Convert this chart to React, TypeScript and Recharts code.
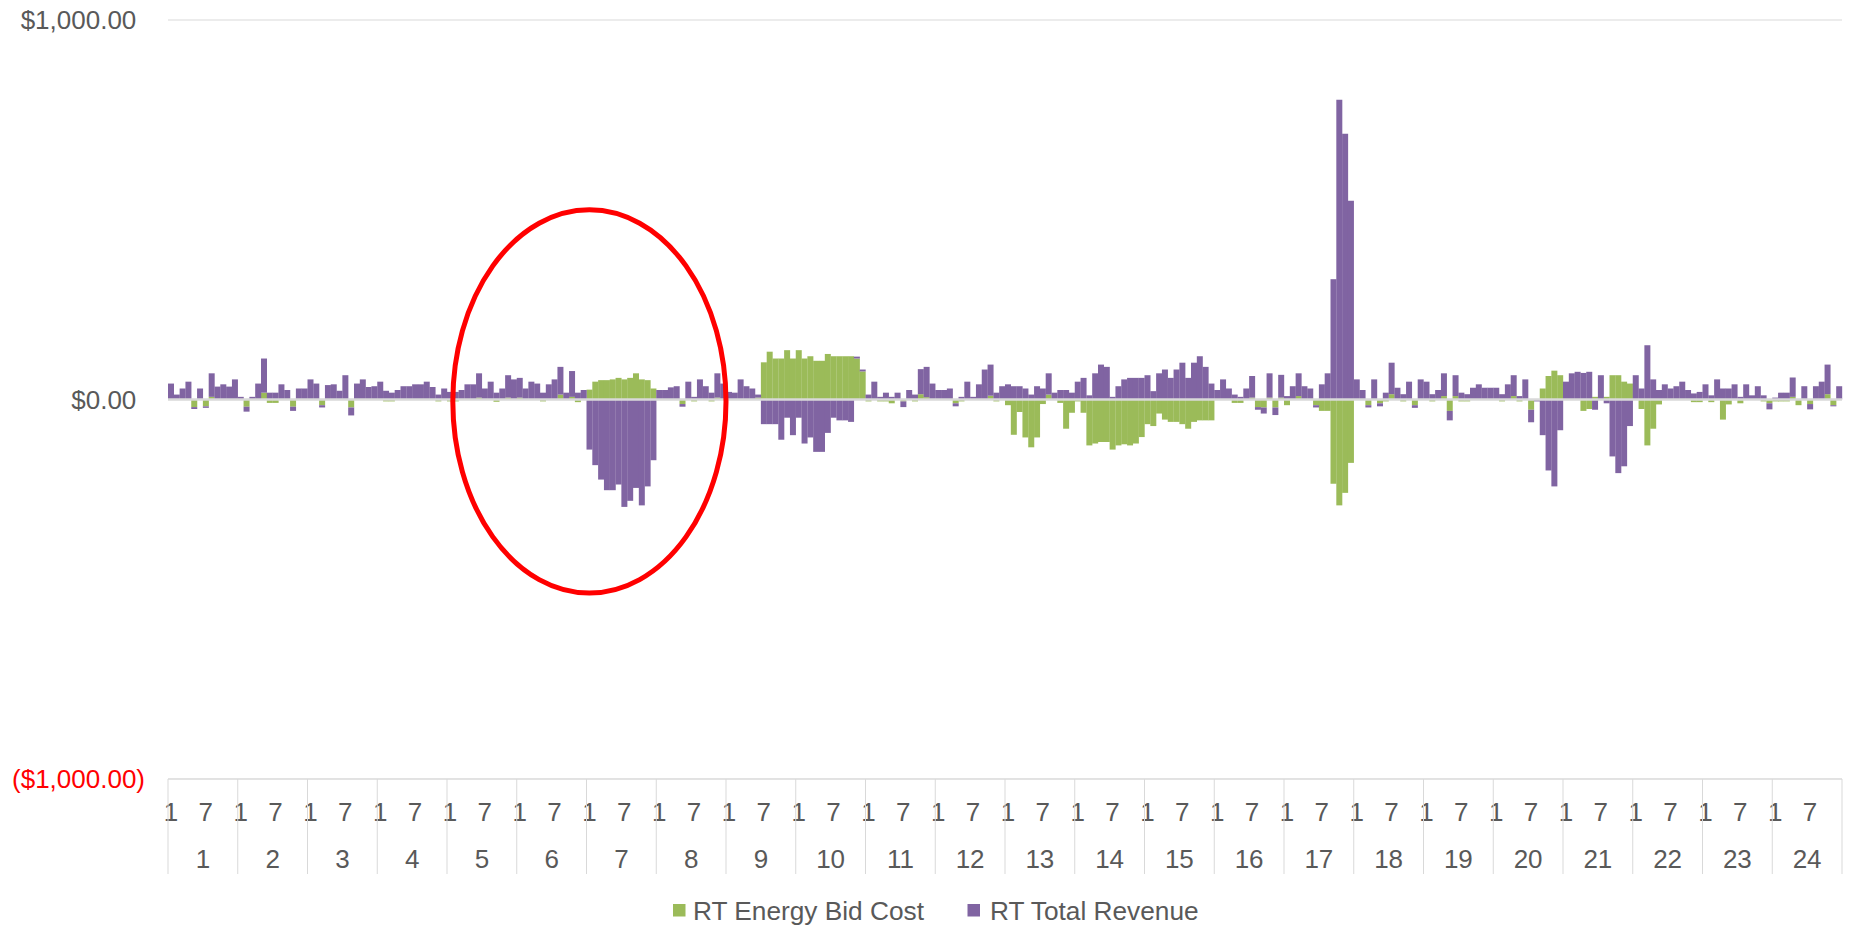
import { BarChart, Bar, XAxis, YAxis, CartesianGrid, Legend, ReferenceLine, ReferenceArea } from 'recharts'

const FONT = '"Liberation Sans", Arial, sans-serif'
const GREEN = '#9BBB59'
const PURPLE = '#8064A2'
const GRID = '#d9d9d9'
const TEXT = '#595959'

const hours = [1, 2, 3, 4, 5, 6, 7, 8, 9, 10, 11, 12, 13, 14, 15, 16, 17, 18, 19, 20, 21, 22, 23, 24]
const intervals = [1, 2, 3, 4, 5, 6, 7, 8, 9, 10, 11, 12]
const labelledIntervals = [1, 7]
const yTicks = [-1000, 0, 1000]

// RT Energy Bid Cost, one row per hour, 12 five-minute intervals each
const bidCost = [
  [0, 0, 0, 0, -20, 0, -18, 7, 0, 0, 0, 0],
  [0, -19, 0, 0, 18, -9, -9, 0, 0, -19, 0, 0],
  [0, 0, -15, 0, 0, 0, 0, -21, 0, 0, 0, 0],
  [0, -5, -5, 0, 0, 0, 0, 0, 0, 0, -5, 0],
  [-5, -5, 0, 0, 0, 5, 0, 0, -6, 0, 5, 0],
  [5, 0, 0, 0, -5, 0, 0, 13, 0, 7, -7, 0],
  [26, 47, 51, 51, 53, 57, 53, 57, 69, 53, 51, 29],
  [0, 0, 0, 0, -12, 0, -5, 0, 0, -5, 5, 0],
  [0, 0, 0, 0, 0, 5, 98, 126, 108, 108, 130, 108],
  [130, 108, 114, 102, 102, 120, 114, 114, 114, 114, 108, 74],
  [-5, 0, -5, -5, -10, 0, -5, 0, -5, 14, 6, 0],
  [0, 0, 0, -10, -5, 0, 0, 0, 0, 10, -5, 0],
  [-15, -93, -33, -100, -126, -100, -12, 13, 0, -9, -77, -35],
  [-5, -35, -121, -116, -112, -112, -132, -121, -118, -121, -116, -99],
  [-65, -70, -37, -53, -59, -59, -65, -77, -59, -55, -55, -55],
  [0, 0, 0, -9, -9, 0, 5, -20, -21, 5, -21, 5],
  [-15, 0, 9, 0, 0, -15, -30, -30, -222, -279, -246, -167],
  [0, 0, -15, 0, -10, -5, 14, 0, -5, 0, -15, 0],
  [0, -5, 0, 9, -30, 9, -5, -5, 0, 0, 0, 0],
  [0, -5, 0, 9, -5, 0, -27, 0, 29, 62, 76, 64],
  [0, 0, 0, -30, -25, 7, 0, 7, 64, 64, 47, 42],
  [0, -25, -121, -77, -13, 0, 0, 0, 0, 0, -7, -7],
  [0, -7, 0, -53, -13, 0, -10, 0, 0, 0, -5, -10],
  [-5, -5, -5, 7, -15, 0, -12, 0, 0, 14, -15, 0],
]

// RT Total Revenue, same layout
const totalRevenue = [
  [42, 13, 29, 47, -5, 29, -4, 62, 34, 40, 34, 53],
  [7, -13, 7, 42, 90, 18, 18, 40, 25, -11, 29, 29],
  [53, 42, -6, 38, 40, 23, 64, -21, 42, 53, 33, 35],
  [47, 23, 18, 25, 35, 35, 40, 40, 47, 33, 13, 29],
  [20, 20, 25, 40, 40, 64, 29, 47, 18, 29, 59, 53],
  [52, 29, 47, 42, 18, 40, 53, 73, 18, 68, 18, 25],
  [-132, -173, -211, -239, -239, -224, -283, -267, -233, -279, -229, -160],
  [25, 25, 32, 35, -7, 47, 7, 53, 35, 18, 64, 42],
  [20, 18, 53, 35, 29, 8, -65, -65, -65, -106, -48, -94],
  [-48, -116, -100, -138, -138, -88, -48, -55, -55, -59, 5, 5],
  [13, 47, 7, 18, 7, 18, -15, 25, 13, 66, 80, 42],
  [25, 25, 29, -8, 7, 47, 7, 40, 79, 82, 18, 35],
  [40, 35, 35, 29, 13, 35, 29, 56, 18, 25, 25, 18],
  [47, 57, 11, 69, 92, 86, 7, 35, 53, 57, 57, 57],
  [64, 22, 69, 79, 57, 79, 97, 57, 97, 114, 86, 42],
  [25, 53, 29, 13, 7, 29, 57, -7, -16, 64, -20, 60],
  [9, 35, 60, 35, 29, -6, 40, 69, 317, 790, 700, 524],
  [53, 25, -6, 53, -8, 18, 83, 31, 14, 47, -7, 53],
  [47, 14, 25, 60, -25, 55, 18, 14, 31, 40, 31, 31],
  [31, 14, 40, 55, 9, 53, -33, -5, -94, -187, -229, -81],
  [47, 69, 73, 70, 73, -27, 64, -10, -150, -194, -176, -70],
  [64, 29, 143, 53, 25, 40, 29, 35, 47, 25, 16, 20],
  [40, 11, 53, 29, 29, 40, 7, 40, 11, 35, 11, -16],
  [5, 18, 18, 51, 0, 35, -14, 35, 47, 78, -3, 35],
]

const series = [
  { key: 'bid', name: 'RT Energy Bid Cost', color: GREEN },
  { key: 'rev', name: 'RT Total Revenue', color: PURPLE },
]

// circled stretch: hour 5 interval 2 through hour 8 interval 12
const highlight = { from: '5-2', to: '8-12', low: -510, high: 500 }

const rows = hours.flatMap((h, hi) =>
  intervals.map((iv, ii) => ({
    slot: `${h}-${iv}`,
    bid: bidCost[hi][ii],
    rev: totalRevenue[hi][ii],
  })),
)

const slotTicks = hours.flatMap((h) => labelledIntervals.map((iv) => `${h}-${iv}`))

const money = (v: number) =>
  Math.abs(v).toLocaleString('en-US', { minimumFractionDigits: 2, maximumFractionDigits: 2 })

function MoneyTick(props: any) {
  const { x, y, payload } = props
  const v = payload.value as number
  const neg = v < 0
  return (
    <text
      x={x}
      y={y + 9}
      textAnchor="end"
      fontFamily={FONT}
      fontSize={26}
      fill={neg ? '#ff0000' : TEXT}
    >
      {neg ? `($${money(v)})` : `$${money(v)}`}
      {/* accounting format keeps room for the closing paren */}
      {!neg && <tspan fillOpacity={0}>)</tspan>}
    </text>
  )
}

function SlotTick(props: any) {
  const { x, y, payload, width } = props
  const [h, iv] = String(payload.value).split('-').map(Number)
  const barW = payload.offset ? payload.offset * 2 : (width ?? 1674) / 288
  const left = x - barW / 2
  const label = (tx: number, ty: number, s: number) => (
    <text x={tx} y={ty} textAnchor="middle" fontFamily={FONT} fontSize={26} fill={TEXT}>
      {s}
    </text>
  )
  return (
    <g>
      {label(x, y + 42, iv)}
      {iv === 1 && (
        <>
          <line x1={left} x2={left} y1={y} y2={y + 95} stroke={GRID} />
          {label(left + barW * 6, y + 89, h)}
          {h === hours[hours.length - 1] && (
            <line x1={left + barW * 12} x2={left + barW * 12} y1={y} y2={y + 95} stroke={GRID} />
          )}
        </>
      )}
    </g>
  )
}

function SeriesLegend() {
  const spots = [
    { box: 673, text: 693 },
    { box: 967.5, text: 990 },
  ]
  return (
    <svg width={1851} height={48} style={{ display: 'block' }}>
      {series.map((s, i) => (
        <g key={s.key}>
          <rect x={spots[i].box} y={25} width={12.5} height={12.5} fill={s.color} />
          <text
            transform={`translate(${spots[i].text} 41) scale(1.05 1)`}
            fontFamily={FONT}
            fontSize={25}
            fill={TEXT}
          >
            {s.name}
          </text>
        </g>
      ))}
    </svg>
  )
}

function HighlightRing(props: any) {
  const { x, y, width, height } = props
  return (
    <ellipse
      cx={x + width / 2}
      cy={y + height / 2}
      rx={Math.abs(width) / 2}
      ry={Math.abs(height) / 2}
      fill="none"
      stroke="#ff0000"
      strokeWidth={5}
    />
  )
}

export default function App() {
  return (
    <div style={{ width: 1851, height: 927 }}>
      <style>{'body { margin: 0; }'}</style>
      <BarChart
        width={1851}
        height={927}
        data={rows}
        margin={{ top: 20, right: 9, bottom: 0, left: 0 }}
        barCategoryGap={0}
        barGap={0}
        stackOffset="sign"
      >
        <CartesianGrid vertical={false} stroke={GRID} />
        <XAxis
          dataKey="slot"
          ticks={slotTicks}
          interval={0}
          height={100}
          tickLine={false}
          tickSize={0}
          tickMargin={0}
          axisLine={{ stroke: GRID }}
          tick={<SlotTick />}
        />
        <YAxis
          type="number"
          domain={[-1000, 1000]}
          ticks={yTicks}
          width={168}
          axisLine={false}
          tickLine={false}
          tickSize={0}
          tickMargin={23}
          tick={<MoneyTick />}
        />
        <Legend
          verticalAlign="bottom"
          content={<SeriesLegend />}
          wrapperStyle={{ left: 0, bottom: 0, width: 1851, height: 48 }}
        />
        {series.map((s) => (
          <Bar key={s.key} dataKey={s.key} name={s.name} stackId="hour" fill={s.color} isAnimationActive={false} />
        ))}
        <ReferenceLine y={0} stroke={GRID} strokeWidth={2.5} />
        <ReferenceArea
          x1={highlight.from}
          x2={highlight.to}
          y1={highlight.low}
          y2={highlight.high}
          ifOverflow="visible"
          zIndex={1000}
          shape={<HighlightRing />}
        />
      </BarChart>
    </div>
  )
}
